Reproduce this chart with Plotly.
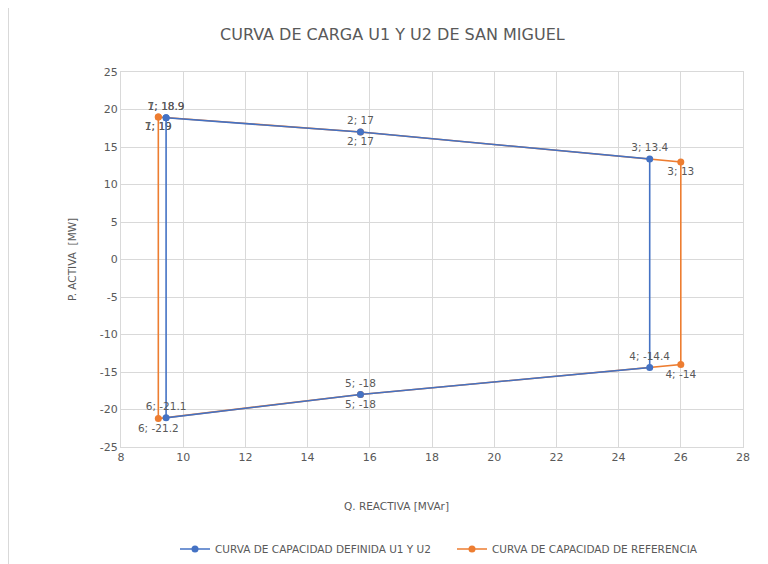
import plotly.graph_objects as go

# Data
puntos = ["1", "2", "3", "4", "5", "6", "7"]
q_definida = [9.45, 15.7, 25.0, 25.0, 15.7, 9.45, 9.45]
p_definida = [18.9, 17.0, 13.4, -14.4, -18.0, -21.1, 18.9]
q_referencia = [9.2, 15.7, 26.0, 26.0, 15.7, 9.2, 9.2]
p_referencia = [19.0, 17.0, 13.0, -14.0, -18.0, -21.2, 19.0]
y_ticks = [25, 20, 15, 10, 5, 0, -5, -10, -15, -20, -25]
y_tick_labels = ["25", "20", "15", "10", "5", "0", "-5", "-10", "-15", "-20", "-25"]

nombre_def = "CURVA DE CAPACIDAD DEFINIDA U1 Y U2"
nombre_ref = "CURVA DE CAPACIDAD DE REFERENCIA"

BLUE = "#4472C4"
ORANGE = "#ED7D31"
TXT = "#595959"
FONT = "DejaVu Sans"

def etiquetas(nums, vals):
    return [f"{n}; {v:g}" for n, v in zip(nums, vals)]

fig = go.Figure()
fig.add_trace(go.Scatter(
    x=q_referencia, y=p_referencia, name=nombre_ref,
    mode="lines+markers+text",
    text=etiquetas(puntos, p_referencia), textposition="bottom center",
    textfont=dict(family=FONT, size=10.5, color=TXT),
    line=dict(color=ORANGE, width=1.6), marker=dict(color=ORANGE, size=7),
))
fig.add_trace(go.Scatter(
    x=q_definida, y=p_definida, name=nombre_def,
    mode="lines+markers+text",
    text=etiquetas(puntos, p_definida), textposition="top center",
    textfont=dict(family=FONT, size=10.5, color=TXT),
    line=dict(color=BLUE, width=1.6), marker=dict(color=BLUE, size=7),
))

# page has an 8px body margin, so work in figure coords = reference - 8
OFF = 8
W, H = 768 - OFF, 610
L, R, T = 121 - OFF, 25, 72 - OFF
PLOT_BOTTOM = 447 - OFF
B = H - PLOT_BOTTOM
pw, ph = W - L - R, H - T - B

def px(xp):
    return (xp - OFF - L) / pw

def py(yp):
    return (H - B - (yp - OFF)) / ph

fig.update_layout(
    width=W, height=H,
    margin=dict(l=L, r=R, t=T, b=B),
    paper_bgcolor="white", plot_bgcolor="white",
    font=dict(family=FONT, color=TXT, size=11),
    showlegend=True,
    legend=dict(orientation="h", x=px(175), y=py(549), xanchor="left", yanchor="middle",
                traceorder="reversed", entrywidth=232, entrywidthmode="pixels",
                font=dict(family=FONT, size=10.5, color=TXT), itemwidth=30),
    xaxis=dict(range=[8, 28], dtick=2, showgrid=True, gridcolor="#D9D9D9", gridwidth=1,
               zeroline=False, showline=True, linecolor="#D9D9D9", mirror=True,
               ticks="", tickfont=dict(family=FONT, size=11, color=TXT)),
    yaxis=dict(range=[-25, 25], tickmode="array", tickvals=y_ticks, ticktext=y_tick_labels,
               showgrid=True, gridcolor="#D9D9D9", gridwidth=1,
               zeroline=False, showline=True, linecolor="#D9D9D9", mirror=True,
               ticks="", ticksuffix="  ", tickfont=dict(family=FONT, size=11, color=TXT)),
    annotations=[
        dict(text="CURVA DE CARGA U1 Y U2 DE SAN MIGUEL", xref="paper", yref="paper",
             x=px(392), y=py(35), xanchor="center", yanchor="middle", showarrow=False,
             font=dict(family=FONT, size=16, color=TXT)),
        dict(text="Q. REACTIVA [MVAr]", xref="paper", yref="paper",
             x=px(396), y=py(506), xanchor="center", yanchor="middle", showarrow=False,
             font=dict(family=FONT, size=10.5, color=TXT)),
        dict(text="P. ACTIVA  [MW]", xref="paper", yref="paper",
             x=px(72), y=py(260), xanchor="center", yanchor="middle", showarrow=False,
             textangle=-90, font=dict(family=FONT, size=10.5, color=TXT)),
    ],
    shapes=[
        dict(type="rect", xref="paper", yref="paper",
             x0=px(8.5), x1=px(800), y0=py(640), y1=py(6.5),
             line=dict(color="#D9D9D9", width=1), fillcolor="rgba(0,0,0,0)", layer="below"),
    ],
)

fig.write_html("out.html")
